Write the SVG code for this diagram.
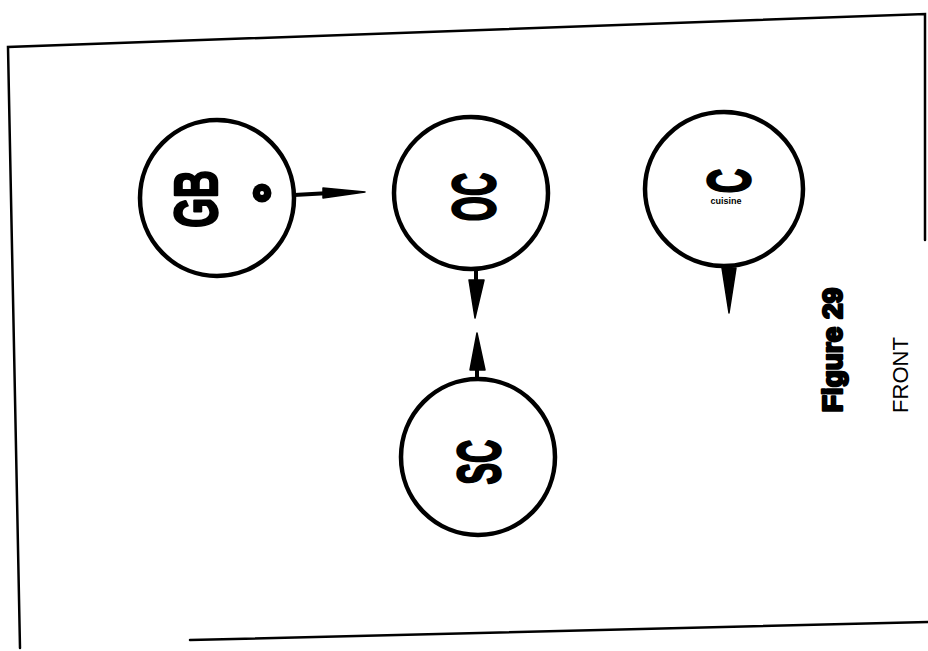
<svg xmlns="http://www.w3.org/2000/svg" width="928" height="651" viewBox="0 0 928 651">
  <style>
    .node { fill: none; stroke: #000; stroke-width: 4.5; }
    .lbl { font-family: "Liberation Sans", Arial, sans-serif; font-weight: bold; fill: #000; stroke: #000; stroke-width: 2.5; stroke-linejoin: round; }
    .frame { fill: none; stroke: #000; stroke-width: 2.5; stroke-linecap: round; }
    .spike { fill: #000; stroke: #000; stroke-width: 1.5; stroke-linejoin: round; }
    .stem { stroke: #000; stroke-width: 4; }
  </style>
  <rect width="928" height="651" fill="#fff"/>
  <g id="frame">
    <polyline class="frame" points="925,240 925,14 8,47 20,648"/>
    <line class="frame" x1="190" y1="640" x2="928" y2="622"/>
  </g>
  <g id="node-GB">
    <ellipse class="node" cx="217" cy="198" rx="77" ry="78"/>
    <text class="lbl" font-size="62" text-anchor="middle" transform="translate(217,199) rotate(-90) scale(0.62,1)">GB</text>
    <circle cx="262" cy="193" r="9.5" fill="#000"/>
    <circle cx="262" cy="193" r="2" fill="#fff"/>
  </g>
  <g id="node-OC">
    <ellipse class="node" cx="471" cy="193" rx="77" ry="76"/>
    <text class="lbl" font-size="62" text-anchor="middle" transform="translate(495,197) rotate(-90) scale(0.52,1)">OC</text>
  </g>
  <g id="node-C">
    <ellipse class="node" cx="724" cy="189" rx="79" ry="77"/>
    <text class="lbl" font-size="62" text-anchor="middle" transform="translate(750,181) rotate(-90) scale(0.55,1)">C</text>
    <text font-family="Liberation Sans, Arial, sans-serif" font-weight="bold" font-size="9" text-anchor="middle" x="726" y="204">cuisine</text>
  </g>
  <g id="node-SC">
    <ellipse class="node" cx="478" cy="457" rx="77" ry="78"/>
    <text class="lbl" font-size="62" text-anchor="middle" transform="translate(500,462) rotate(-90) scale(0.52,1)">SC</text>
  </g>
  <g id="connectors">
    <line class="stem" x1="294" y1="195" x2="330" y2="193"/>
    <polygon class="spike" points="323,188 365,192 323,198"/>
    <line class="stem" x1="476" y1="268" x2="476" y2="282"/>
    <polygon class="spike" points="469,280 484,280 475,318"/>
    <line class="stem" x1="477" y1="368" x2="477" y2="381"/>
    <polygon class="spike" points="470,370 485,370 477,333"/>
    <line class="stem" x1="729" y1="264" x2="729" y2="270"/>
    <polygon class="spike" points="722,268 736,268 729,313"/>
  </g>
  <g id="caption">
    <text class="lbl" font-size="28" stroke-width="1.5" text-anchor="middle" transform="translate(842,350) rotate(-90)">Figure 29</text>
    <text font-family="Liberation Sans, Arial, sans-serif" font-size="22" text-anchor="middle" transform="translate(908,375) rotate(-90)">FRONT</text>
  </g>
</svg>
